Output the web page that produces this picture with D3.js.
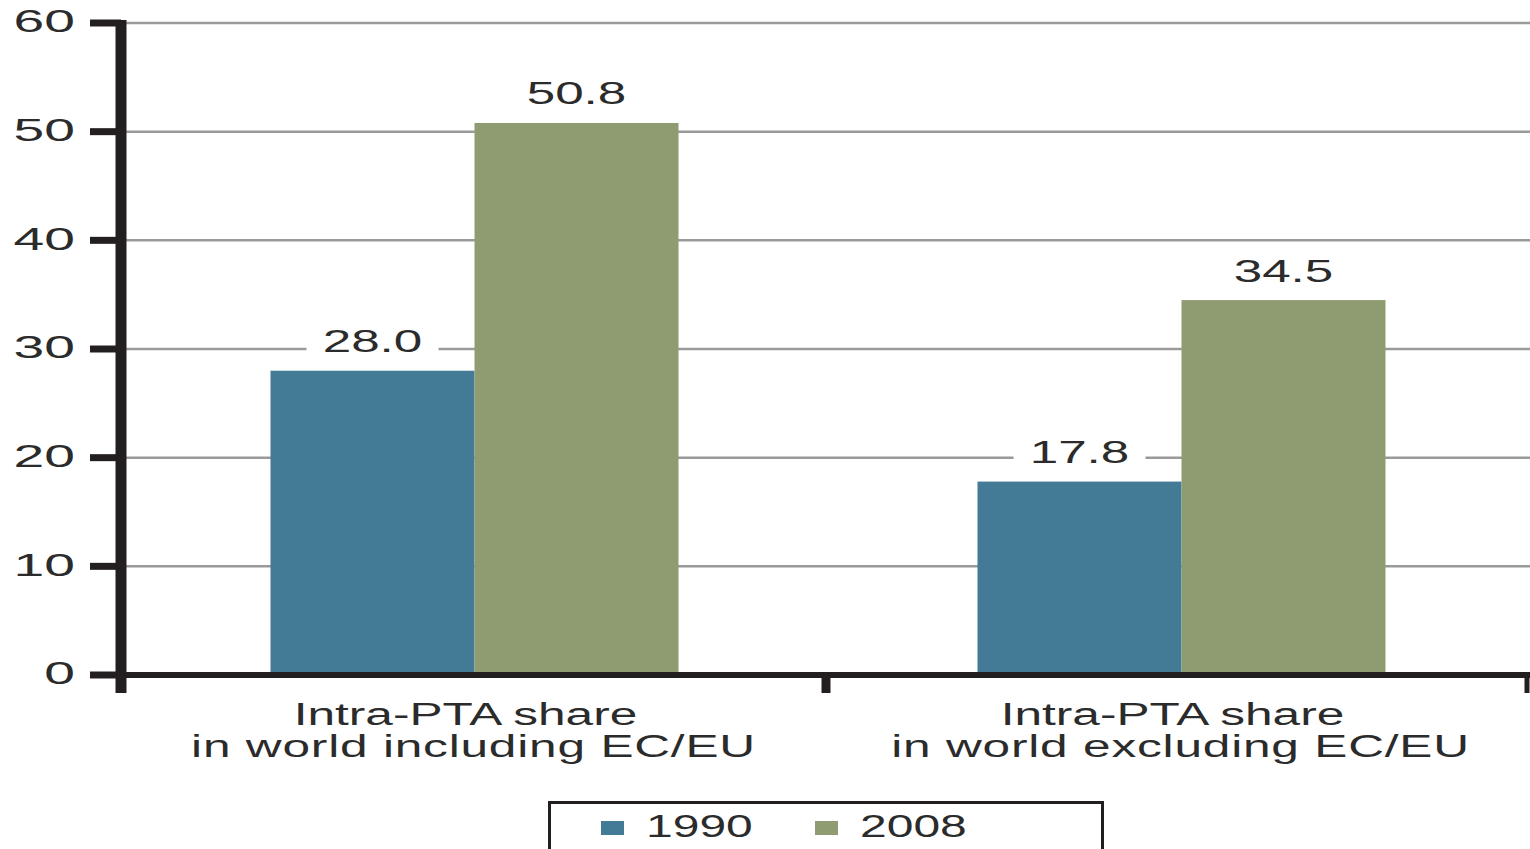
<!DOCTYPE html>
<html>
<head>
<meta charset="utf-8">
<script src="https://d3js.org/d3.v7.min.js"></script>
<style>
  body { margin: 0; background: #fff; }
  text { font-family: "Liberation Sans", Arial, sans-serif; fill: #2b2b2b; }
</style>
</head>
<body>
<div id="chart"></div>
<script>
// data
var categories = ["Intra-PTA share\nin world including EC/EU", "Intra-PTA share\nin world excluding EC/EU"];
var years = ["1990", "2008"];
var values1990 = [28.0, 17.8];
var values2008 = [50.8, 34.5];
var yTicks = [0, 10, 20, 30, 40, 50, 60];

var colors = { "1990": "#437b97", "2008": "#8f9c72" };
var stretch = 1.6;

var width = 1530, height = 849;

var svg = d3.select("#chart").append("svg")
    .attr("width", width)
    .attr("height", height);

var x = d3.scaleBand()
    .domain(categories)
    .range([121, 1535]);

var xInner = d3.scaleBand()
    .domain(years)
    .range([-204, 204]);

var y = d3.scaleLinear()
    .domain([0, 60])
    .range([675, 23]);

// gridlines
svg.append("g").selectAll("line")
    .data(yTicks.filter(function(d) { return d > 0; }))
    .enter().append("line")
    .attr("x1", 121).attr("x2", width)
    .attr("y1", function(d) { return y(d); })
    .attr("y2", function(d) { return y(d); })
    .attr("stroke", "#9a9a9a")
    .attr("stroke-width", 2.5);

var rows = [];
categories.forEach(function(c, i) {
    rows.push({ cat: c, year: "1990", value: values1990[i] });
    rows.push({ cat: c, year: "2008", value: values2008[i] });
});

// bars
svg.append("g").selectAll("rect")
    .data(rows)
    .enter().append("rect")
    .attr("x", function(d) { return x(d.cat) + x.bandwidth() / 2 + xInner(d.year); })
    .attr("width", xInner.bandwidth())
    .attr("y", function(d) { return y(d.value); })
    .attr("height", function(d) { return y(0) - y(d.value); })
    .attr("fill", function(d) { return colors[d.year]; });

// value labels with white background
var labels = svg.append("g").selectAll("g")
    .data(rows)
    .enter().append("g")
    .attr("transform", function(d) {
        var cx = x(d.cat) + x.bandwidth() / 2 + xInner(d.year) + xInner.bandwidth() / 2;
        return "translate(" + cx + "," + (y(d.value) - 30) + ")";
    });

labels.append("rect")
    .attr("x", -66).attr("width", 132)
    .attr("y", -18).attr("height", 36)
    .attr("fill", "#fff");

labels.append("text")
    .attr("transform", "scale(" + stretch + ",1)")
    .attr("text-anchor", "middle")
    .attr("dy", "0.36em")
    .style("font-size", "32px")
    .text(function(d) { return d.value.toFixed(1); });

// y axis
var yAxis = svg.append("g");
yAxis.selectAll(".tick")
    .data(yTicks)
    .enter().append("line")
    .attr("x1", 90).attr("x2", 121)
    .attr("y1", function(d) { return y(d); })
    .attr("y2", function(d) { return y(d); })
    .attr("stroke", "#231f20")
    .attr("stroke-width", 7);

yAxis.selectAll("text")
    .data(yTicks)
    .enter().append("text")
    .attr("transform", function(d) { return "translate(75," + y(d) + ") scale(1.78,1)"; })
    .attr("text-anchor", "end")
    .attr("dy", "0.3em")
    .style("font-size", "31px")
    .text(function(d) { return d; });

yAxis.append("line")
    .attr("x1", 121).attr("x2", 121)
    .attr("y1", 20).attr("y2", 693)
    .attr("stroke", "#231f20")
    .attr("stroke-width", 11);

// x axis
var xAxis = svg.append("g");
xAxis.append("line")
    .attr("x1", 90).attr("x2", width)
    .attr("y1", y(0)).attr("y2", y(0))
    .attr("stroke", "#231f20")
    .attr("stroke-width", 6);

xAxis.selectAll(".sep")
    .data(categories.slice(1))
    .enter().append("line")
    .attr("x1", function(d) { return x(d) - 2; })
    .attr("x2", function(d) { return x(d) - 2; })
    .attr("y1", y(0)).attr("y2", 693)
    .attr("stroke", "#231f20")
    .attr("stroke-width", 9);

xAxis.append("line")
    .attr("x1", 1527).attr("x2", 1527)
    .attr("y1", y(0) - 3).attr("y2", 693)
    .attr("stroke", "#231f20")
    .attr("stroke-width", 5);

var catLabels = xAxis.selectAll(".cat")
    .data(categories)
    .enter().append("text")
    .attr("transform", function(d) {
        return "translate(" + (x(d) + x.bandwidth() / 2 - 9) + ",725) scale(" + stretch + ",1)";
    })
    .attr("text-anchor", "middle")
    .style("font-size", "31px");

catLabels.selectAll("tspan")
    .data(function(d) { return d.split("\n"); })
    .enter().append("tspan")
    .attr("x", function(d, i) { return i === 0 ? 0 : 5; })
    .attr("dy", function(d, i) { return i === 0 ? 0 : 32; })
    .style("letter-spacing", function(d, i) { return i === 0 ? "0px" : "0.5px"; })
    .text(function(d) { return d; });

// legend
var legend = svg.append("g");
legend.append("rect")
    .attr("x", 549.5).attr("y", 802.5)
    .attr("width", 553).attr("height", 80)
    .attr("fill", "none")
    .attr("stroke", "#231f20")
    .attr("stroke-width", 3);

var legendX = { "1990": 601, "2008": 815 };
var items = legend.selectAll(".item")
    .data(years)
    .enter().append("g")
    .attr("transform", function(d) { return "translate(" + legendX[d] + ",821)"; });

items.append("rect")
    .attr("width", 23).attr("height", 14)
    .attr("fill", function(d) { return colors[d]; });

items.append("text")
    .attr("transform", "translate(45,16) scale(1.5,1)")
    .style("font-size", "32px")
    .text(function(d) { return d; });
</script>
</body>
</html>
